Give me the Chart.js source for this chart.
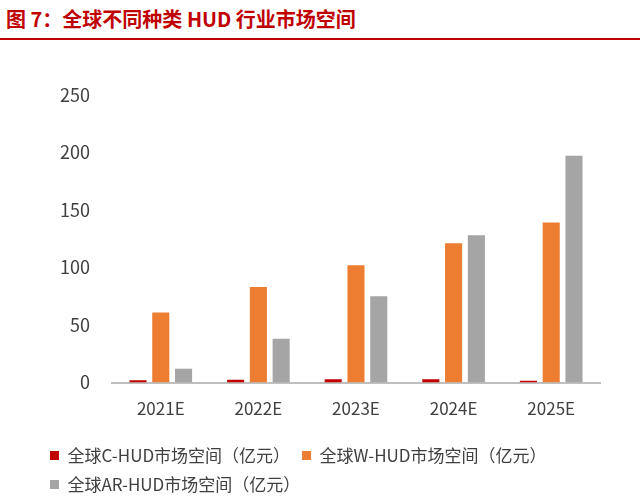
<!DOCTYPE html>
<html lang="zh">
<head>
<meta charset="UTF-8"/>
<script src="https://cdn.jsdelivr.net/npm/chart.js"></script>
<style>
  body { margin: 0; background: #fff; font-family: "Noto Sans CJK SC", sans-serif; }
  .title { position: absolute; left: 6px; top: 4px; color: #C00000; font-weight: bold; font-size: 20px; }
  .rule { position: absolute; left: 0; top: 38px; width: 640px; height: 2px; background: #C00000; }
  .wrap { position: absolute; left: 0; top: 62px; width: 640px; height: 441px; }
</style>
</head>
<body>
<div class="title">图 7：全球不同种类 HUD 行业市场空间</div>
<div class="rule"></div>
<div class="wrap"><canvas id="c"></canvas></div>
<script>
  // values
  const years = ['2021E', '2022E', '2023E', '2024E', '2025E'];
  const cHud = [2, 2.5, 3, 3, 1.5];
  const wHud = [61, 83, 102, 121, 139];
  const arHud = [12, 38, 75, 128, 197];
  const yTicks = [0, 50, 100, 150, 200, 250];

  const font = { family: '"Noto Sans CJK SC", sans-serif', size: 17 };

  new Chart(document.getElementById('c'), {
    type: 'bar',
    data: {
      labels: years,
      datasets: [
        { label: '全球C-HUD市场空间（亿元）', data: cHud, backgroundColor: '#C00000' },
        { label: '全球W-HUD市场空间（亿元）', data: wHud, backgroundColor: '#ED7D31' },
        { label: '全球AR-HUD市场空间（亿元）', data: arHud, backgroundColor: '#A5A5A5' }
      ]
    },
    options: {
      responsive: true,
      maintainAspectRatio: false,
      animation: false,
      categoryPercentage: 0.7,
      barPercentage: 0.75,
      layout: { padding: { left: 38, right: 40, top: 8, bottom: 0 } },
      plugins: {
        tooltip: { enabled: false },
        legend: {
          position: 'bottom',
          align: 'start',
          labels: { font: font, color: '#404040', boxWidth: 9, boxHeight: 9, padding: 12 }
        }
      },
      scales: {
        x: {
          grid: { display: false, drawTicks: false },
          border: { color: '#BFBFBF', width: 2 },
          ticks: { font: font, color: '#404040', padding: 16 }
        },
        y: {
          min: 0, max: 250,
          afterBuildTicks: axis => { axis.ticks = yTicks.map(v => ({ value: v })); },
          grid: { display: false, drawTicks: false },
          border: { display: false },
          ticks: { font: { ...font, size: 18 }, color: '#404040', padding: 22 }
        }
      }
    }
  });
</script>
</body>
</html>
